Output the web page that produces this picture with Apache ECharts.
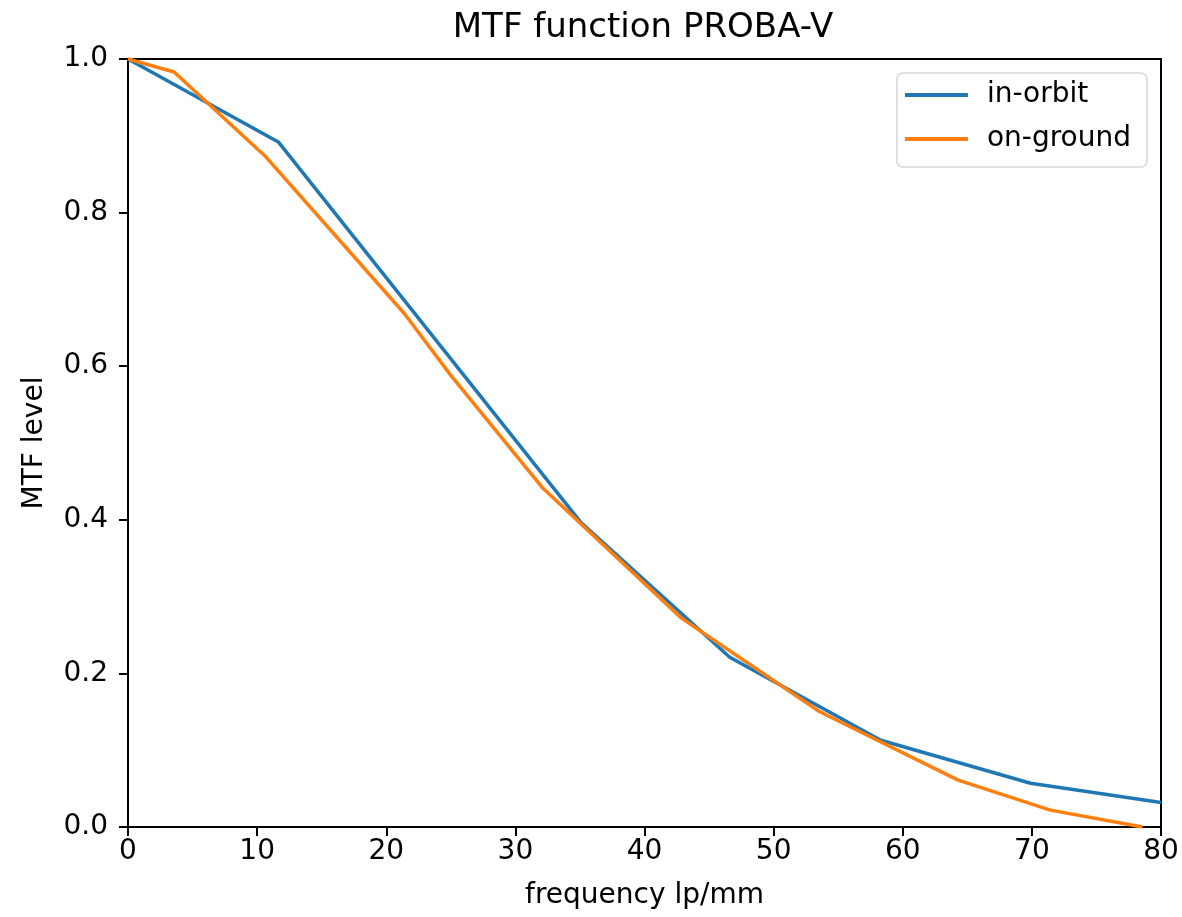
<!DOCTYPE html>
<html>
<head>
<meta charset="utf-8">
<title>MTF function PROBA-V</title>
<script src="https://cdn.jsdelivr.net/npm/echarts@6/dist/echarts.min.js"></script>
<style>
  html, body { margin: 0; padding: 0; background: #fff; }
  #chart { width: 1182px; height: 917px; }
</style>
</head>
<body>
<div id="chart"></div>
<script>
// datos (frecuencia lp/mm, nivel MTF)
const inOrbitFreq = [0, 11.64, 35.1, 46.6, 58.3, 69.9, 80];
const inOrbitMtf  = [1.0, 0.892, 0.396, 0.221, 0.113, 0.057, 0.032];

const onGroundFreq = [0, 3.57, 10.71, 21.43, 25.0, 32.14, 42.86, 53.57, 64.29, 71.43, 78.57];
const onGroundMtf  = [1.0, 0.983, 0.872, 0.668, 0.588, 0.441, 0.272, 0.150, 0.061, 0.022, 0.0];

const xTicks = [0, 10, 20, 30, 40, 50, 60, 70, 80];
const yTicks = [0.0, 0.2, 0.4, 0.6, 0.8, 1.0];

const FONT = '"DejaVu Sans", sans-serif';
const FS = 28;

function pairs(xs, ys) {
  return xs.map((x, i) => [x, ys[i]]);
}

const chart = echarts.init(document.getElementById('chart'), null, { renderer: 'canvas' });

const option = {
  animation: false,
  backgroundColor: '#fff',
  title: {
    text: 'MTF function PROBA-V',
    left: 638,
    top: 6,
    textAlign: 'center',
    textStyle: { fontFamily: FONT, fontSize: 34, fontWeight: 'normal', color: '#000' }
  },
  legend: {
    right: 35,
    top: 73,
    orient: 'vertical',
    padding: [8, 16, 14, 8],
    itemGap: 16,
    itemWidth: 63,
    itemHeight: 4,
    icon: 'rect',
    backgroundColor: '#fff',
    borderColor: '#d6d6d6',
    borderWidth: 1.5,
    borderRadius: 6,
    textStyle: { fontFamily: FONT, fontSize: FS, color: '#000', padding: [0, 0, 0, 14] },
    data: ['in-orbit', 'on-ground']
  },
  grid: {
    left: 128,
    right: 21,
    top: 59,
    bottom: 90,
    show: true,
    borderColor: '#000',
    borderWidth: 2,
    backgroundColor: 'transparent'
  },
  xAxis: {
    type: 'value',
    min: 0,
    max: 80,
    interval: 10,
    name: 'frequency lp/mm',
    nameLocation: 'middle',
    nameGap: 55,
    nameTextStyle: { fontFamily: FONT, fontSize: FS, color: '#000' },
    axisLine: { show: true, onZero: false, lineStyle: { color: '#000', width: 2 } },
    axisTick: { show: true, inside: false, length: 9, lineStyle: { color: '#000', width: 2 } },
    axisLabel: {
      margin: 11,
      fontFamily: FONT, fontSize: FS, color: '#000',
      formatter: v => xTicks.includes(v) ? String(v) : ''
    },
    splitLine: { show: false }
  },
  yAxis: {
    type: 'value',
    min: 0,
    max: 1,
    interval: 0.2,
    name: 'MTF level',
    nameLocation: 'middle',
    nameGap: 79,
    nameTextStyle: { fontFamily: FONT, fontSize: FS, color: '#000' },
    axisLine: { show: true, onZero: false, lineStyle: { color: '#000', width: 2 } },
    axisTick: { show: true, inside: false, length: 9, lineStyle: { color: '#000', width: 2 } },
    axisLabel: {
      margin: 20,
      fontFamily: FONT, fontSize: FS, color: '#000',
      formatter: v => yTicks.some(t => Math.abs(t - v) < 1e-9) ? v.toFixed(1) : ''
    },
    splitLine: { show: false }
  },
  series: [
    {
      name: 'in-orbit',
      type: 'line',
      data: pairs(inOrbitFreq, inOrbitMtf),
      symbol: 'none',
      clip: true,
      color: '#1f77b4',
      lineStyle: { color: '#1f77b4', width: 3.5 }
    },
    {
      name: 'on-ground',
      type: 'line',
      data: pairs(onGroundFreq, onGroundMtf),
      symbol: 'none',
      clip: true,
      color: '#ff7f0e',
      lineStyle: { color: '#ff7f0e', width: 3.5 }
    }
  ]
};

chart.setOption(option);
window.addEventListener('resize', () => chart.resize());
</script>
</body>
</html>
